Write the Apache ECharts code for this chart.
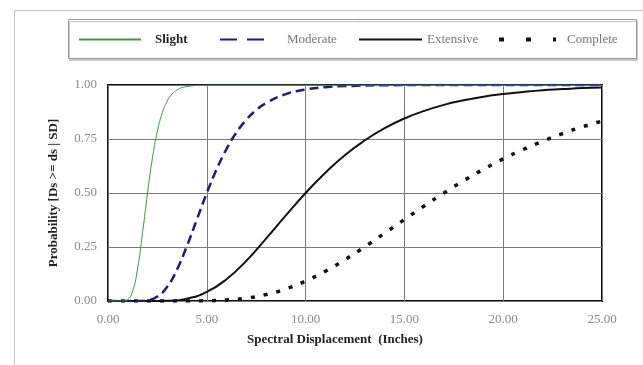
<!DOCTYPE html>
<html><head><meta charset="utf-8">
<script src="https://cdn.jsdelivr.net/npm/echarts@6/dist/echarts.min.js"></script>
<style>html,body{margin:0;padding:0;background:#fff}#c{width:643px;height:365px}</style>
</head><body><div id="c"></div>
<script>
const seriesNames = ['Slight', 'Moderate', 'Extensive', 'Complete'];
const xTickLabels = ['0.00', '5.00', '10.00', '15.00', '20.00', '25.00'];
const yTickLabels = ['0.00', '0.25', '0.50', '0.75', '1.00'];

const slightX = [0, 0.5, 0.75, 1, 1.25, 1.5, 1.75, 2, 2.25, 2.5, 2.75, 3, 3.25, 3.5, 3.75, 4, 4.5, 5, 6, 25];
const slightY = [0, 0, 0.0002, 0.0066, 0.047, 0.152, 0.317, 0.5, 0.663, 0.787, 0.872, 0.926, 0.959, 0.977, 0.988, 0.993, 0.998, 0.9995, 1, 1];

const moderateX = [0, 1, 1.5, 2, 2.5, 3, 3.5, 4, 4.5, 5, 5.5, 6, 6.5, 7, 7.5, 8, 9, 10, 11, 12, 14, 16, 25];
const moderateY = [0, 0, 0.0002, 0.0035, 0.021, 0.0665, 0.147, 0.256, 0.378, 0.5, 0.61, 0.704, 0.78, 0.839, 0.884, 0.9165, 0.958, 0.979, 0.99, 0.995, 0.9988, 0.9997, 1];

const extensiveX = [0, 1, 2, 3, 4, 5, 6, 7, 8, 9, 10, 11, 12, 13, 14, 15, 16, 17, 18, 19, 20, 21, 22, 23, 24, 25];
const extensiveY = [0, 0, 0, 0.0013, 0.011, 0.042, 0.101, 0.186, 0.2885, 0.396, 0.5, 0.594, 0.676, 0.744, 0.8, 0.845, 0.88, 0.908, 0.929, 0.946, 0.958, 0.968, 0.976, 0.981, 0.986, 0.989];

const completeX = [0, 1, 2, 3, 4, 5, 6, 7, 8, 9, 10, 11, 12, 13, 14, 15, 16, 17, 18, 19, 20, 21, 22, 23, 24, 25];
const completeY = [0, 0, 0, 0, 0, 0.0011, 0.0046, 0.0133, 0.0298, 0.0559, 0.0923, 0.138, 0.192, 0.251, 0.314, 0.377, 0.44, 0.5, 0.557, 0.6095, 0.658, 0.701, 0.74, 0.775, 0.806, 0.8325];

const pairs = (xs, ys) => xs.map((x, i) => [x, ys[i]]);
const serif = "'Liberation Serif', 'Times New Roman', serif";
const hiddenSymbol = { opacity: 0, color: 'rgba(0,0,0,0)', borderWidth: 0 };

const chart = echarts.init(document.getElementById('c'), null, { renderer: 'canvas' });
chart.setOption({
  animation: false,
  backgroundColor: '#fff',
  graphic: [
    { type: 'rect', z: -10, shape: { x: 14.5, y: 10.5, width: 700, height: 400 }, style: { fill: '#fff', stroke: '#c4c4c4', lineWidth: 1 } },
    { type: 'rect', z: -5, shape: { x: 68.5, y: 19.5, width: 568, height: 39 }, style: { fill: '#fff', stroke: '#999', lineWidth: 1, shadowColor: '#c8c8c8', shadowOffsetX: 1, shadowOffsetY: 2, shadowBlur: 0 } }
  ],
  grid: { left: 108, right: 41, top: 85, bottom: 64, show: true, borderColor: '#111', borderWidth: 2, backgroundColor: '#fff' },
  legend: [
    { data: [seriesNames[0]], left: 78, top: 33, padding: 0, itemWidth: 62, itemHeight: 14, selectedMode: false, itemStyle: hiddenSymbol,
      textStyle: { fontFamily: serif, fontSize: 13, fontWeight: 'bold', color: '#222', padding: [0, 0, 0, 9] } },
    { data: [seriesNames[1]], left: 219, top: 33, padding: 0, itemWidth: 52, itemHeight: 14, selectedMode: false, itemStyle: hiddenSymbol,
      lineStyle: { type: [17, 10] },
      textStyle: { fontFamily: serif, fontSize: 13, color: '#777', padding: [0, 0, 0, 10] } },
    { data: [seriesNames[2]], left: 358, top: 33, padding: 0, itemWidth: 63, itemHeight: 14, selectedMode: false, itemStyle: hiddenSymbol,
      textStyle: { fontFamily: serif, fontSize: 13, color: '#777', padding: [0, 0, 0, 0] } },
    { data: [seriesNames[3]], left: 497, top: 33, padding: 0, itemWidth: 57, itemHeight: 14, selectedMode: false, itemStyle: hiddenSymbol,
      lineStyle: { type: [5, 22], width: 4 },
      textStyle: { fontFamily: serif, fontSize: 13, color: '#777', padding: [0, 0, 0, 6] } }
  ],
  xAxis: {
    type: 'value', min: 0, max: 25, interval: 5,
    name: 'Spectral Displacement  (Inches)', nameLocation: 'middle', nameGap: 32,
    nameTextStyle: { fontFamily: serif, fontSize: 13, fontWeight: 'bold', color: '#222', padding: [0, 40, 0, 0] },
    axisLine: { show: false }, axisTick: { show: false },
    axisLabel: { margin: 12, fontFamily: serif, fontSize: 13, color: '#8a8a8a', formatter: v => xTickLabels[Math.round(v / 5)] },
    splitLine: { show: true, lineStyle: { color: '#7a7a7a', width: 1 } }
  },
  yAxis: {
    type: 'value', min: 0, max: 1, interval: 0.25,
    name: 'Probability [Ds >= ds | SD]', nameLocation: 'middle', nameGap: 48,
    nameTextStyle: { fontFamily: serif, fontSize: 13, fontWeight: 'bold', color: '#222' },
    axisLine: { show: false }, axisTick: { show: false },
    axisLabel: { margin: 11, fontFamily: serif, fontSize: 13, color: '#8a8a8a', formatter: v => yTickLabels[Math.round(v * 4)] },
    splitLine: { show: true, lineStyle: { color: '#7a7a7a', width: 1 } }
  },
  series: [
    { name: seriesNames[0], type: 'line', data: pairs(slightX, slightY), symbol: 'none', smooth: true,
      lineStyle: { color: '#3c9a3c', width: 1 }, itemStyle: { color: '#3c9a3c' }, z: 5 },
    { name: seriesNames[1], type: 'line', data: pairs(moderateX, moderateY), symbol: 'none', smooth: true,
      lineStyle: { color: '#1c1c7a', width: 2.5, type: [9, 5] }, itemStyle: { color: '#1c1c7a' }, z: 4 },
    { name: seriesNames[2], type: 'line', data: pairs(extensiveX, extensiveY), symbol: 'none', smooth: true,
      lineStyle: { color: '#111', width: 2 }, itemStyle: { color: '#111' }, z: 3 },
    { name: seriesNames[3], type: 'line', data: pairs(completeX, completeY), symbol: 'none', smooth: true,
      lineStyle: { color: '#111', width: 3.5, type: [4, 9] }, itemStyle: { color: '#111' }, z: 2 }
  ]
});
</script>
</body></html>
